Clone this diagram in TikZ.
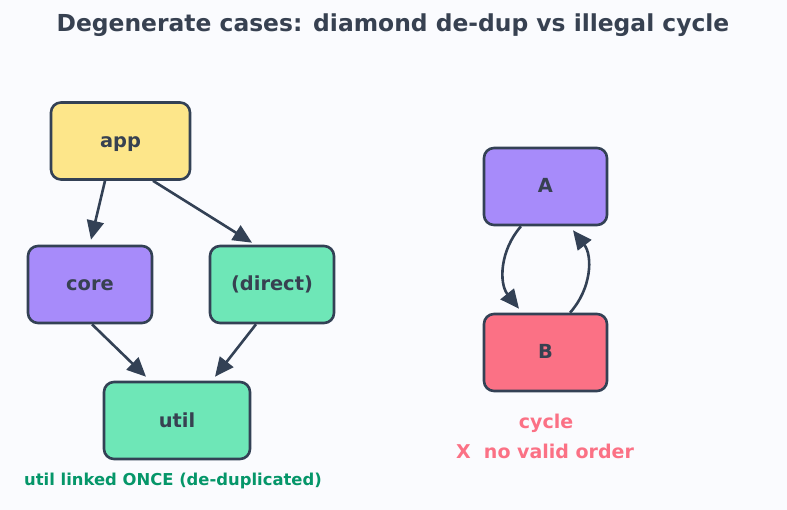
\documentclass[tikz,border=0pt]{standalone}
\usepackage{fontspec}
\setmainfont{DejaVu Sans}
\usetikzlibrary{arrows.meta}
\definecolor{bg}{HTML}{FAFBFE}
\definecolor{ink}{HTML}{334155}
\definecolor{titleink}{HTML}{374151}
\definecolor{yel}{HTML}{FDE68A}
\definecolor{pur}{HTML}{A78BFA}
\definecolor{grn}{HTML}{6EE7B7}
\definecolor{red}{HTML}{FB7185}
\definecolor{okgreen}{HTML}{059669}
\tikzset{
  box/.style={draw=ink, line width=2.6pt, rounded corners=10pt, minimum width=#1, minimum height=77pt, inner sep=0pt,
    text height=14pt, text depth=1pt,
    font=\fontsize{19.4}{21}\selectfont\bfseries, text=titleink},
  box/.default=124pt,
  conn/.style={draw=ink, line width=2.6pt, -{Triangle[length=19pt,width=17pt]}},
}
\begin{document}
\begin{tikzpicture}[x=1pt,y=-1pt]
\fill[bg] (0,0) rectangle (787,510);
\useasboundingbox (0,0) rectangle (787,510);
\node[font=\fontsize{23.4}{25}\selectfont\bfseries, text=titleink, anchor=base] (title) at (393,31.5) {Degenerate cases: diamond de-dup vs illegal cycle};
\node[box=139pt, fill=yel] (app) at (120.5,141) {app};
\node[box, fill=pur] (core) at (90,284.5) {core};
\node[box, fill=grn] (direct) at (272,284.5) {(direct)};
\node[box=146pt, fill=grn] (util) at (177,420.5) {util};
\node[box=123pt, fill=pur] (A) at (545.5,186.5) {A};
\node[box=123pt, fill=red] (B) at (545.5,352.5) {B};
\draw[conn] ([xshift=-15.5pt]app.south) -- ([xshift=1pt,yshift=5pt]core.north);
\draw[conn] ([xshift=32.5pt]app.south) -- ([xshift=-20pt,yshift=2pt]direct.north);
\draw[conn] ([xshift=2pt]core.south) -- ([xshift=-31pt,yshift=4pt]util.north);
\draw[conn] ([xshift=-16pt]direct.south) -- ([xshift=38pt,yshift=4pt]util.north);
\draw[conn] ([xshift=-24.5pt]A.south) to[bend right=40] ([xshift=-26.5pt,yshift=4pt]B.north);
\draw[conn] ([xshift=24.5pt]B.north) to[bend right=40] ([xshift=27.5pt,yshift=-4pt]A.south);
\node[font=\fontsize{16.4}{18}\selectfont\bfseries, text=okgreen, anchor=base] (note) at (173,485) {util linked ONCE (de-duplicated)};
\node[font=\fontsize{19}{21}\selectfont\bfseries, text=red, anchor=base] (cyc) at (546,428.5) {cycle};
\node[font=\fontsize{19}{21}\selectfont\bfseries, text=red, anchor=base] (noord) at (545,458.5) {X\ \ no valid order};
\end{tikzpicture}
\end{document}
